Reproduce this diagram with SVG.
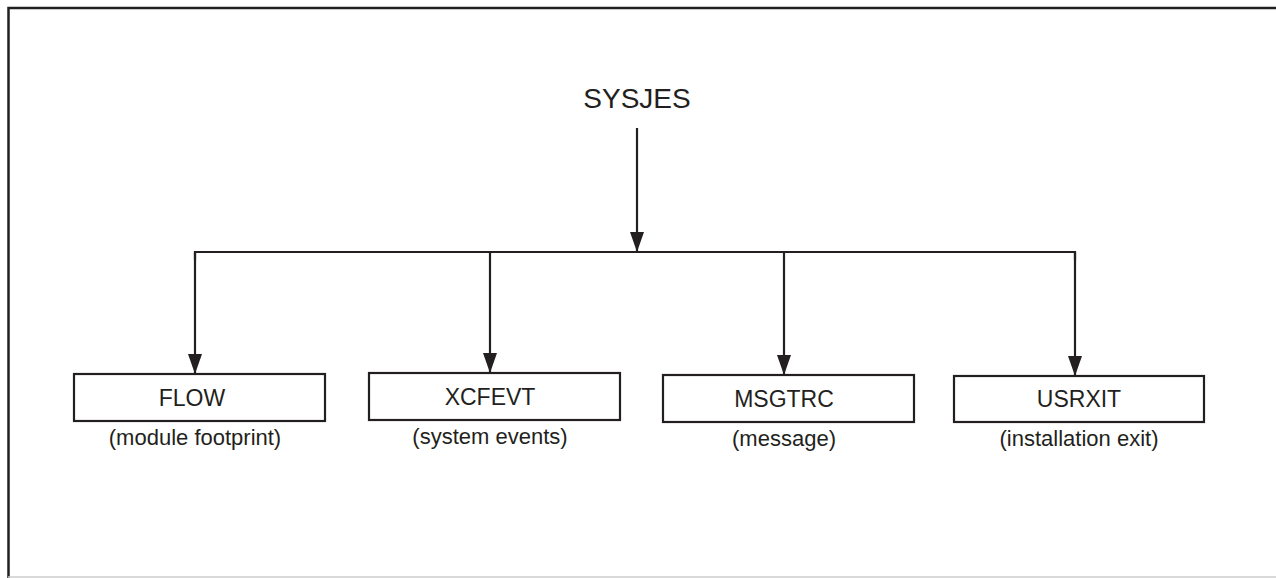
<svg xmlns="http://www.w3.org/2000/svg" width="1276" height="578" viewBox="0 0 1276 578">
<defs>
<style>
.box{fill:#fff;stroke:#231f20;stroke-width:2.2}
.lbl{font-family:"Liberation Sans",Arial,sans-serif;font-size:23px;fill:#231f20;text-anchor:middle}
.sub{font-family:"Liberation Sans",Arial,sans-serif;font-size:22px;fill:#231f20;text-anchor:middle}
.title{font-family:"Liberation Sans",Arial,sans-serif;font-size:28px;fill:#231f20;text-anchor:middle}
.conn{fill:none;stroke:#231f20;stroke-width:2.2}
</style>
<marker id="ah" viewBox="0 0 20 14" refX="20" refY="7" markerWidth="20" markerHeight="14" markerUnits="userSpaceOnUse" orient="auto">
<path d="M0,0 L20,7 L0,14 Z" fill="#231f20"/>
</marker>
</defs>
<rect x="0" y="0" width="1276" height="578" fill="#fff"/>
<path d="M8.5,578 V8 H1276" fill="none" stroke="#231f20" stroke-width="2.5"/>
<line x1="8" y1="577" x2="1276" y2="577" stroke="#cccccc" stroke-width="1.5"/>
<g id="connectors">
<line class="conn" x1="637" y1="128" x2="637" y2="252" marker-end="url(#ah)"/>
<polyline class="conn" points="195,260 195,252 1075,252 1075,260"/>
<line class="conn" x1="195" y1="252" x2="195" y2="374" marker-end="url(#ah)"/>
<line class="conn" x1="490" y1="252" x2="490" y2="373" marker-end="url(#ah)"/>
<line class="conn" x1="784" y1="252" x2="784" y2="375" marker-end="url(#ah)"/>
<line class="conn" x1="1075" y1="252" x2="1075" y2="376" marker-end="url(#ah)"/>
</g>
<g id="SYSJES">
<text class="title" x="637" y="108">SYSJES</text>
</g>
<g id="FLOW">
<rect class="box" x="74" y="374" width="251" height="47"/>
<text class="lbl" x="192" y="406">FLOW</text>
<text class="sub" x="195" y="445">(module footprint)</text>
</g>
<g id="XCFEVT">
<rect class="box" x="369" y="373" width="251" height="47"/>
<text class="lbl" x="490" y="405">XCFEVT</text>
<text class="sub" x="490" y="444">(system events)</text>
</g>
<g id="MSGTRC">
<rect class="box" x="663" y="375" width="251" height="47"/>
<text class="lbl" x="784" y="407">MSGTRC</text>
<text class="sub" x="784" y="446">(message)</text>
</g>
<g id="USRXIT">
<rect class="box" x="954" y="376" width="250" height="46"/>
<text class="lbl" x="1079" y="407">USRXIT</text>
<text class="sub" x="1079" y="446">(installation exit)</text>
</g>
</svg>
